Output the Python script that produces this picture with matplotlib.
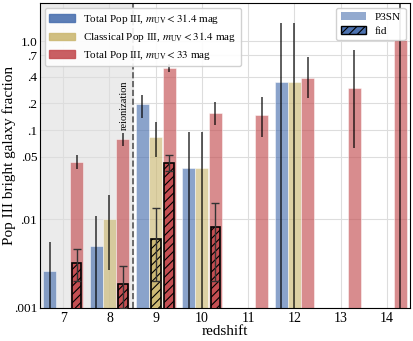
import numpy as np
import matplotlib.pyplot as plt
from matplotlib.patches import Patch

plt.rcParams['font.family'] = ['Liberation Serif', 'DejaVu Serif']
plt.rcParams['mathtext.fontset'] = 'stix'
plt.rcParams['hatch.linewidth'] = 0.8

nan = np.nan
redshift = np.array([7, 8, 9, 10, 11, 12, 13, 14])

# P3SN runs: value, lower / upper error bound
tot314 = np.array([0.0026, 0.005, 0.196, 0.0374, nan, 0.346, nan, nan])
tot314_lo = np.array([0.0005, 0.0005, 0.139, 0.0005, nan, 0.0005, nan, nan])
tot314_hi = np.array([0.0055, 0.0108, 0.25, 0.095, nan, 1.6, nan, nan])

cls314 = np.array([nan, 0.01, 0.084, 0.0374, nan, 0.346, nan, nan])
cls314_lo = np.array([nan, 0.0027, 0.05, 0.0005, nan, 0.0005, nan, nan])
cls314_hi = np.array([nan, 0.0186, 0.123, 0.095, nan, 1.6, nan, nan])

tot33 = np.array([0.044, 0.079, 0.497, 0.155, 0.147, 0.39, 0.297, 1.05])
tot33_lo = np.array([0.037, 0.066, 0.45, 0.114, 0.083, 0.23, 0.063, 0.0005])
tot33_hi = np.array([0.052, 0.092, 0.55, 0.206, 0.234, 0.66, 0.81, 5.0])

# fid runs
fid_cls314 = np.array([nan, nan, 0.006, nan, nan, nan, nan, nan])
fid_cls314_lo = np.array([nan, nan, 0.002, nan, nan, nan, nan, nan])
fid_cls314_hi = np.array([nan, nan, 0.0133, nan, nan, nan, nan, nan])

fid_tot33 = np.array([0.0032, 0.00186, 0.043, 0.0081, nan, nan, nan, nan])
fid_tot33_lo = np.array([0.002, 0.001, 0.035, 0.002, nan, nan, nan, nan])
fid_tot33_hi = np.array([0.0046, 0.003, 0.052, 0.015, nan, nan, nan, nan])

yticks = [0.001, 0.01, 0.05, 0.1, 0.2, 0.4, 0.7, 1.0]
ytick_labels = ['.001', '.01', '.05', '.1', '.2', '.4', '.7', '1.0']

blue = '#4c72b0'
yellow = '#ccb974'
red = '#c44e52'

fig = plt.figure(figsize=(4.13, 3.41), dpi=100)
ax = fig.add_axes([0.097, 0.097, 0.896, 0.894])

ax.axvspan(6.5, 8.5, color='#ebebeb', zorder=0)
ax.axvline(8.5, color='#555555', ls='--', lw=1.2, zorder=1)
ax.text(8.33, 0.19, 'reionization', rotation=90, ha='center', va='center', fontsize=7.5)

off = 0.29
w = 0.28
bottom = 1e-4


def p3sn(x, val, lo, hi, color):
    ok = ~np.isnan(val)
    ax.bar(x[ok], val[ok] - bottom, width=w, bottom=bottom, color=color,
           alpha=0.65, edgecolor='white', lw=0.5, zorder=2)
    err = np.array([val[ok] - lo[ok], hi[ok] - val[ok]])
    ax.errorbar(x[ok], val[ok], yerr=err, fmt='none', ecolor='black',
                elinewidth=1.1, alpha=0.8, zorder=3)


def fid(x, val, lo, hi, color):
    ok = ~np.isnan(val)
    ax.bar(x[ok], val[ok] - bottom, width=0.21, bottom=bottom, color=color,
           edgecolor='black', lw=1.2, hatch='////', zorder=4)
    err = np.array([val[ok] - lo[ok], hi[ok] - val[ok]])
    ax.errorbar(x[ok], val[ok], yerr=err, fmt='none', ecolor='#333333',
                elinewidth=1.0, capsize=3, capthick=1.0, zorder=5)


p3sn(redshift - off, tot314, tot314_lo, tot314_hi, blue)
p3sn(redshift.astype(float), cls314, cls314_lo, cls314_hi, yellow)
p3sn(redshift + off, tot33, tot33_lo, tot33_hi, red)
fid(redshift.astype(float), fid_cls314, fid_cls314_lo, fid_cls314_hi, yellow)
fid(redshift + off, fid_tot33, fid_tot33_lo, fid_tot33_hi, red)

ax.set_yscale('log')
ax.set_ylim(0.001, 2.7)
ax.set_xlim(6.5, 14.5)
ax.set_xticks(redshift)
ax.set_yticks(yticks)
ax.set_yticklabels(ytick_labels)
ax.minorticks_off()
ax.tick_params(labelsize=10, length=0, pad=3)
ax.tick_params(axis='y', labelsize=9.5, pad=2)
ax.grid(True, color='#dddddd', lw=0.8, zorder=0)
ax.set_axisbelow(True)
ax.set_xlabel('redshift', fontsize=11, labelpad=0)
ax.set_ylabel('Pop III bright galaxy fraction', fontsize=11)
ax.yaxis.set_label_coords(-0.064, 0.5)

h1 = [Patch(color=blue, alpha=0.9), Patch(color=yellow, alpha=0.9), Patch(color=red, alpha=0.9)]
l1 = [r'Total Pop III, $m_{\rm UV} < 31.4$ mag',
      r'Classical Pop III, $m_{\rm UV} < 31.4$ mag',
      r'Total Pop III, $m_{\rm UV} < 33$ mag']
leg1 = ax.legend(h1, l1, loc='upper left', fontsize=8, framealpha=0.9,
                 borderaxespad=0.4, handlelength=2.3, labelspacing=0.4)
ax.add_artist(leg1)

h2 = [Patch(facecolor=blue, alpha=0.6), Patch(facecolor=blue, edgecolor='black', hatch='////')]
ax.legend(h2, ['P3SN', 'fid'], loc='upper right', fontsize=8, framealpha=0.9,
          borderaxespad=0.4, handlelength=2.3, labelspacing=0.4)

fig.savefig('out.png', dpi=100)
